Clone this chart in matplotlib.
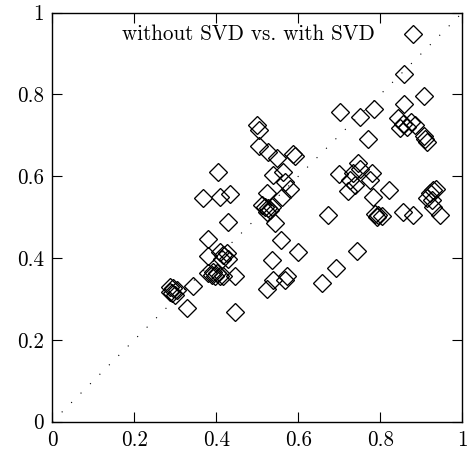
import numpy as np
import matplotlib
matplotlib.use("Agg")
import matplotlib.pyplot as plt

# scores without SVD (x) vs. with SVD (y)
without_svd = [
    0.880, 0.858, 0.906, 0.858, 0.702, 0.750, 0.785, 0.771,
    0.844, 0.856, 0.864, 0.848, 0.876, 0.885, 0.906, 0.913, 0.909,
    0.500, 0.505, 0.505, 0.527, 0.547, 0.588, 0.592, 0.539, 0.563,
    0.567, 0.580, 0.559, 0.523,
    0.511, 0.519, 0.527, 0.531, 0.523, 0.535,
    0.543, 0.557, 0.600, 0.535, 0.539, 0.523, 0.572, 0.567,
    0.657, 0.692, 0.742, 0.672,
    0.700, 0.726, 0.734, 0.746, 0.750, 0.738, 0.722, 0.779, 0.776,
    0.820, 0.783, 0.787, 0.795, 0.803, 0.791, 0.856, 0.880, 0.946,
    0.929, 0.937, 0.921, 0.913, 0.925, 0.929,
    0.405, 0.367, 0.410, 0.433, 0.429, 0.380, 0.379,
    0.409, 0.417, 0.425, 0.429, 0.413,
    0.380, 0.389, 0.397, 0.401, 0.409, 0.393, 0.417,
    0.446, 0.446, 0.342, 0.328,
    0.287, 0.295, 0.303, 0.291, 0.299, 0.287,
]
with_svd = [
    0.947, 0.850, 0.797, 0.777, 0.758, 0.744, 0.764, 0.690,
    0.742, 0.728, 0.721, 0.717, 0.732, 0.725, 0.698, 0.685, 0.692,
    0.725, 0.713, 0.675, 0.660, 0.644, 0.654, 0.650, 0.603, 0.611,
    0.587, 0.569, 0.550, 0.558,
    0.530, 0.526, 0.522, 0.518, 0.513, 0.526,
    0.487, 0.444, 0.416, 0.395, 0.346, 0.324, 0.356, 0.346,
    0.338, 0.377, 0.418, 0.505,
    0.606, 0.591, 0.607, 0.632, 0.619, 0.579, 0.565, 0.607, 0.591,
    0.566, 0.550, 0.509, 0.505, 0.503, 0.501, 0.513, 0.505, 0.505,
    0.566, 0.568, 0.558, 0.546, 0.542, 0.526,
    0.610, 0.548, 0.550, 0.557, 0.489, 0.446, 0.405,
    0.416, 0.408, 0.413, 0.399, 0.399,
    0.363, 0.359, 0.355, 0.363, 0.356, 0.367, 0.355,
    0.355, 0.267, 0.332, 0.277,
    0.330, 0.326, 0.322, 0.314, 0.310, 0.318,
]
ticks = [0, 0.2, 0.4, 0.6, 0.8, 1]
tick_labels = ["0", "0.2", "0.4", "0.6", "0.8", "1"]

plt.rcParams["font.family"] = ["cmr10", "DejaVu Serif"]
plt.rcParams["axes.formatter.use_mathtext"] = True

fig = plt.figure(figsize=(4.72, 4.55), dpi=100)
ax = fig.add_axes([0.1108, 0.0732, 0.8687, 0.8989])

ax.plot([0, 1], [0, 1], color="black", lw=0.8, dashes=(1, 11))
ax.plot(without_svd, with_svd, linestyle="none", marker="D", ms=9.5,
        mfc="none", mec="black", mew=0.95)

ax.text(0.477, 0.948, "without SVD vs. with SVD", transform=ax.transAxes,
        ha="center", va="center", fontsize=15.2)

ax.set_xlim(0, 1)
ax.set_ylim(0, 1)
ax.set_xticks(ticks)
ax.set_xticklabels(tick_labels)
ax.set_yticks(ticks)
ax.set_yticklabels(tick_labels)
ax.tick_params(direction="in", length=7, width=0.8, top=True, right=True,
               labelsize=15.2, pad=6)
for s in ax.spines.values():
    s.set_linewidth(1.0)

fig.savefig("out.png", dpi=100)
